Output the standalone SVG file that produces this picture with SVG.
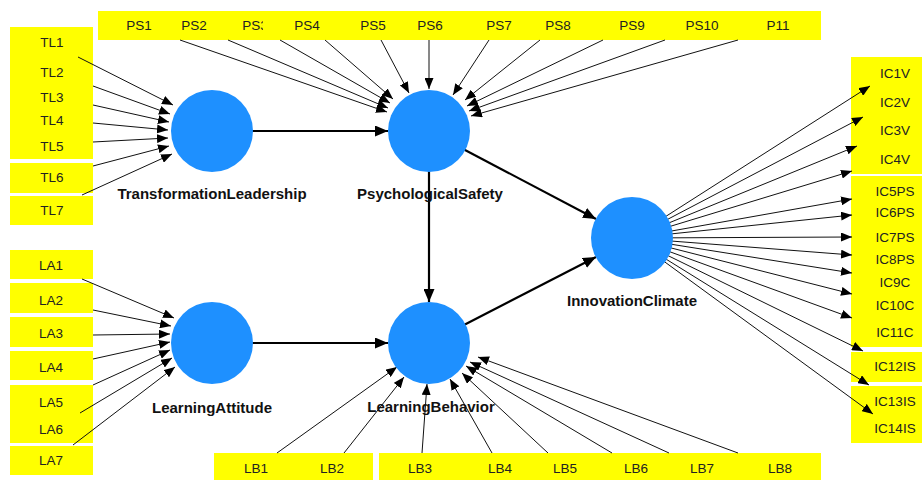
<svg xmlns="http://www.w3.org/2000/svg" width="922" height="480" viewBox="0 0 922 480">
<style>
.box{fill:#ffff00}
.t{font-family:"Liberation Sans",Arial,sans-serif;font-size:13.5px;fill:#222;text-anchor:middle}
.lbl{font-family:"Liberation Sans",Arial,sans-serif;font-size:15px;font-weight:bold;fill:#111;text-anchor:middle}
.lv{fill:#1e90ff}
.e{stroke:#111;stroke-width:1;fill:none;marker-end:url(#a)}
.s{stroke:#000;stroke-width:2.2;fill:none;marker-end:url(#b)}
</style>
<defs>
<marker id="a" markerUnits="userSpaceOnUse" markerWidth="12" markerHeight="9" refX="11" refY="4.5" orient="auto"><path d="M0,0 L11,4.5 L0,9 z" fill="#000"/></marker>
<marker id="b" markerUnits="userSpaceOnUse" markerWidth="14" markerHeight="11" refX="13" refY="5.5" orient="auto"><path d="M0,0 L13,5.5 L0,11 z" fill="#000"/></marker>
</defs>
<rect width="922" height="480" fill="#fff"/>

<g id="ps-boxes">
<g id="PS1"><rect class="box" x="98" y="11" width="68" height="29"/><text class="t" x="139" y="30">PS1</text></g>
<g id="PS2"><rect class="box" x="166" y="11" width="58" height="29"/><text class="t" x="194" y="30">PS2</text></g>
<g id="PS3"><rect class="box" x="224" y="11" width="40" height="29"/><text class="t" x="255" y="30">PS3</text></g>
<g id="PS4"><rect class="box" x="263" y="11" width="77" height="29"/><text class="t" x="307" y="30">PS4</text></g>
<g id="PS5"><rect class="box" x="340" y="11" width="61" height="29"/><text class="t" x="373" y="30">PS5</text></g>
<g id="PS6"><rect class="box" x="401" y="11" width="63" height="29"/><text class="t" x="430" y="30">PS6</text></g>
<g id="PS7"><rect class="box" x="464" y="11" width="64" height="29"/><text class="t" x="499" y="30">PS7</text></g>
<g id="PS8"><rect class="box" x="528" y="11" width="67" height="29"/><text class="t" x="558" y="30">PS8</text></g>
<g id="PS9"><rect class="box" x="595" y="11" width="72" height="29"/><text class="t" x="632" y="30">PS9</text></g>
<g id="PS10"><rect class="box" x="667" y="11" width="73" height="29"/><text class="t" x="702" y="30">PS10</text></g>
<g id="P11"><rect class="box" x="740" y="11" width="81" height="29"/><text class="t" x="778" y="30">P11</text></g>
</g>

<g id="tl-boxes">
<g id="TL1"><rect class="box" x="10" y="27" width="83" height="31"/><text class="t" x="52" y="47">TL1</text></g>
<g id="TL2"><rect class="box" x="10" y="57" width="83" height="28"/><text class="t" x="52" y="77">TL2</text></g>
<g id="TL3"><rect class="box" x="10" y="84" width="83" height="25"/><text class="t" x="52" y="102">TL3</text></g>
<g id="TL4"><rect class="box" x="10" y="108" width="83" height="26"/><text class="t" x="52" y="125">TL4</text></g>
<g id="TL5"><rect class="box" x="10" y="133" width="83" height="26"/><text class="t" x="52" y="151">TL5</text></g>
<g id="TL6"><rect class="box" x="10" y="163" width="83" height="30"/><text class="t" x="52" y="182">TL6</text></g>
<g id="TL7"><rect class="box" x="10" y="196" width="83" height="29"/><text class="t" x="52" y="215">TL7</text></g>
</g>

<g id="la-boxes">
<g id="LA1"><rect class="box" x="10" y="250" width="83" height="29"/><text class="t" x="51" y="270">LA1</text></g>
<g id="LA2"><rect class="box" x="10" y="283" width="83" height="30"/><text class="t" x="51" y="305">LA2</text></g>
<g id="LA3"><rect class="box" x="10" y="317" width="83" height="30"/><text class="t" x="51" y="338">LA3</text></g>
<g id="LA4"><rect class="box" x="10" y="351" width="83" height="29"/><text class="t" x="51" y="372">LA4</text></g>
<g id="LA5"><rect class="box" x="10" y="385" width="83" height="31"/><text class="t" x="51" y="407">LA5</text></g>
<g id="LA6"><rect class="box" x="10" y="415" width="83" height="28"/><text class="t" x="51" y="434">LA6</text></g>
<g id="LA7"><rect class="box" x="10" y="446" width="83" height="29"/><text class="t" x="51" y="465">LA7</text></g>
</g>

<g id="lb-boxes">
<g id="LB1"><rect class="box" x="214" y="453" width="82" height="27"/><text class="t" x="256" y="473">LB1</text></g>
<g id="LB2"><rect class="box" x="295" y="453" width="78" height="27"/><text class="t" x="332" y="473">LB2</text></g>
<g id="LB3"><rect class="box" x="379" y="453" width="82" height="27"/><text class="t" x="420" y="473">LB3</text></g>
<g id="LB4"><rect class="box" x="460" y="453" width="74" height="27"/><text class="t" x="500" y="473">LB4</text></g>
<g id="LB5"><rect class="box" x="533" y="453" width="68" height="27"/><text class="t" x="565" y="473">LB5</text></g>
<g id="LB6"><rect class="box" x="600" y="453" width="70" height="27"/><text class="t" x="636" y="473">LB6</text></g>
<g id="LB7"><rect class="box" x="669" y="453" width="73" height="27"/><text class="t" x="702" y="473">LB7</text></g>
<g id="LB8"><rect class="box" x="741" y="453" width="80" height="27"/><text class="t" x="780" y="473">LB8</text></g>
</g>

<g id="ic-boxes">
<g id="IC1V"><rect class="box" x="851" y="57" width="71" height="32"/><text class="t" x="895" y="78">IC1V</text></g>
<g id="IC2V"><rect class="box" x="851" y="88" width="71" height="29"/><text class="t" x="895" y="107">IC2V</text></g>
<g id="IC3V"><rect class="box" x="851" y="116" width="71" height="30"/><text class="t" x="895" y="135">IC3V</text></g>
<g id="IC4V"><rect class="box" x="851" y="145" width="71" height="29"/><text class="t" x="895" y="164">IC4V</text></g>
<g id="IC5PS"><rect class="box" x="851" y="176" width="71" height="27"/><text class="t" x="895" y="196">IC5PS</text></g>
<g id="IC6PS"><rect class="box" x="851" y="202" width="71" height="24"/><text class="t" x="895" y="217">IC6PS</text></g>
<g id="IC7PS"><rect class="box" x="851" y="225" width="71" height="24"/><text class="t" x="895" y="242">IC7PS</text></g>
<g id="IC8PS"><rect class="box" x="851" y="248" width="71" height="24"/><text class="t" x="895" y="264">IC8PS</text></g>
<g id="IC9C"><rect class="box" x="851" y="271" width="71" height="24"/><text class="t" x="895" y="287">IC9C</text></g>
<g id="IC10C"><rect class="box" x="851" y="294" width="71" height="25"/><text class="t" x="895" y="310">IC10C</text></g>
<g id="IC11C"><rect class="box" x="851" y="318" width="71" height="29"/><text class="t" x="895" y="337">IC11C</text></g>
<g id="IC12IS"><rect class="box" x="851" y="352" width="71" height="30"/><text class="t" x="895" y="371">IC12IS</text></g>
<g id="IC13IS"><rect class="box" x="851" y="386" width="71" height="30"/><text class="t" x="895" y="406">IC13IS</text></g>
<g id="IC14IS"><rect class="box" x="851" y="415" width="71" height="28"/><text class="t" x="895" y="433">IC14IS</text></g>
</g>

<g id="connectors">
<line class="e" x1="78" y1="57" x2="173" y2="105"/>
<line class="e" x1="93" y1="86" x2="170" y2="114"/>
<line class="e" x1="93" y1="105" x2="169" y2="122"/>
<line class="e" x1="93" y1="123" x2="168" y2="130"/>
<line class="e" x1="93" y1="142" x2="168" y2="138"/>
<line class="e" x1="93" y1="166" x2="169" y2="146"/>
<line class="e" x1="82" y1="195" x2="172" y2="154"/>

<line class="e" x1="82" y1="279" x2="174" y2="318"/>
<line class="e" x1="93" y1="310" x2="171" y2="326"/>
<line class="e" x1="93" y1="335" x2="170" y2="334"/>
<line class="e" x1="93" y1="359" x2="170" y2="342"/>
<line class="e" x1="93" y1="385" x2="170" y2="350"/>
<line class="e" x1="80" y1="413" x2="172" y2="358"/>
<line class="e" x1="73" y1="445" x2="175" y2="367"/>

<line class="e" x1="180" y1="40" x2="387" y2="112"/>
<line class="e" x1="228" y1="40" x2="388" y2="108"/>
<line class="e" x1="280" y1="40" x2="390" y2="103"/>
<line class="e" x1="325" y1="40" x2="393" y2="99"/>
<line class="e" x1="381" y1="40" x2="409" y2="93"/>
<line class="e" x1="429" y1="40" x2="429" y2="89"/>
<line class="e" x1="489" y1="40" x2="453" y2="95"/>
<line class="e" x1="540" y1="40" x2="465" y2="100"/>
<line class="e" x1="603" y1="40" x2="467" y2="106"/>
<line class="e" x1="665" y1="40" x2="469" y2="111"/>
<line class="e" x1="738" y1="40" x2="471" y2="116"/>

<line class="e" x1="277" y1="453" x2="397" y2="367"/>
<line class="e" x1="344" y1="453" x2="404" y2="377"/>
<line class="e" x1="422" y1="453" x2="427" y2="384"/>
<line class="e" x1="492" y1="453" x2="450" y2="379"/>
<line class="e" x1="548" y1="453" x2="462" y2="373"/>
<line class="e" x1="612" y1="453" x2="466" y2="366"/>
<line class="e" x1="669" y1="453" x2="470" y2="362"/>
<line class="e" x1="738" y1="453" x2="478" y2="357"/>

<line class="e" x1="632" y1="238" x2="870" y2="86"/>
<line class="e" x1="632" y1="238" x2="863" y2="117"/>
<line class="e" x1="632" y1="238" x2="857" y2="146"/>
<line class="e" x1="632" y1="238" x2="852" y2="171"/>
<line class="e" x1="632" y1="238" x2="852" y2="199"/>
<line class="e" x1="632" y1="238" x2="852" y2="215"/>
<line class="e" x1="632" y1="238" x2="852" y2="237"/>
<line class="e" x1="632" y1="238" x2="852" y2="255"/>
<line class="e" x1="632" y1="238" x2="852" y2="273"/>
<line class="e" x1="632" y1="238" x2="852" y2="294"/>
<line class="e" x1="632" y1="238" x2="852" y2="318"/>
<line class="e" x1="632" y1="238" x2="863" y2="351"/>
<line class="e" x1="632" y1="238" x2="869" y2="385"/>
<line class="e" x1="632" y1="238" x2="873" y2="414"/>

<line class="s" x1="212" y1="131" x2="388" y2="131"/>
<line class="s" x1="212" y1="343" x2="388" y2="343"/>
<line class="s" x1="429" y1="131" x2="429" y2="302"/>
<line class="s" x1="429" y1="131" x2="596" y2="219"/>
<line class="s" x1="429" y1="343" x2="596" y2="257"/>
</g>

<g id="TransformationLeadership"><circle class="lv" cx="212" cy="131" r="41"/><text class="lbl" x="212" y="199">TransformationLeadership</text></g>
<g id="PsychologicalSafety"><circle class="lv" cx="429" cy="131" r="41"/><text class="lbl" x="430" y="199">PsychologicalSafety</text></g>
<g id="LearningAttitude"><circle class="lv" cx="212" cy="343" r="41"/><text class="lbl" x="212" y="413">LearningAttitude</text></g>
<g id="LearningBehavior"><circle class="lv" cx="429" cy="343" r="41"/><text class="lbl" x="431" y="412">LearningBehavior</text></g>
<g id="InnovationClimate"><circle class="lv" cx="632" cy="238" r="41"/><text class="lbl" x="632" y="306">InnovationClimate</text></g>
</svg>
